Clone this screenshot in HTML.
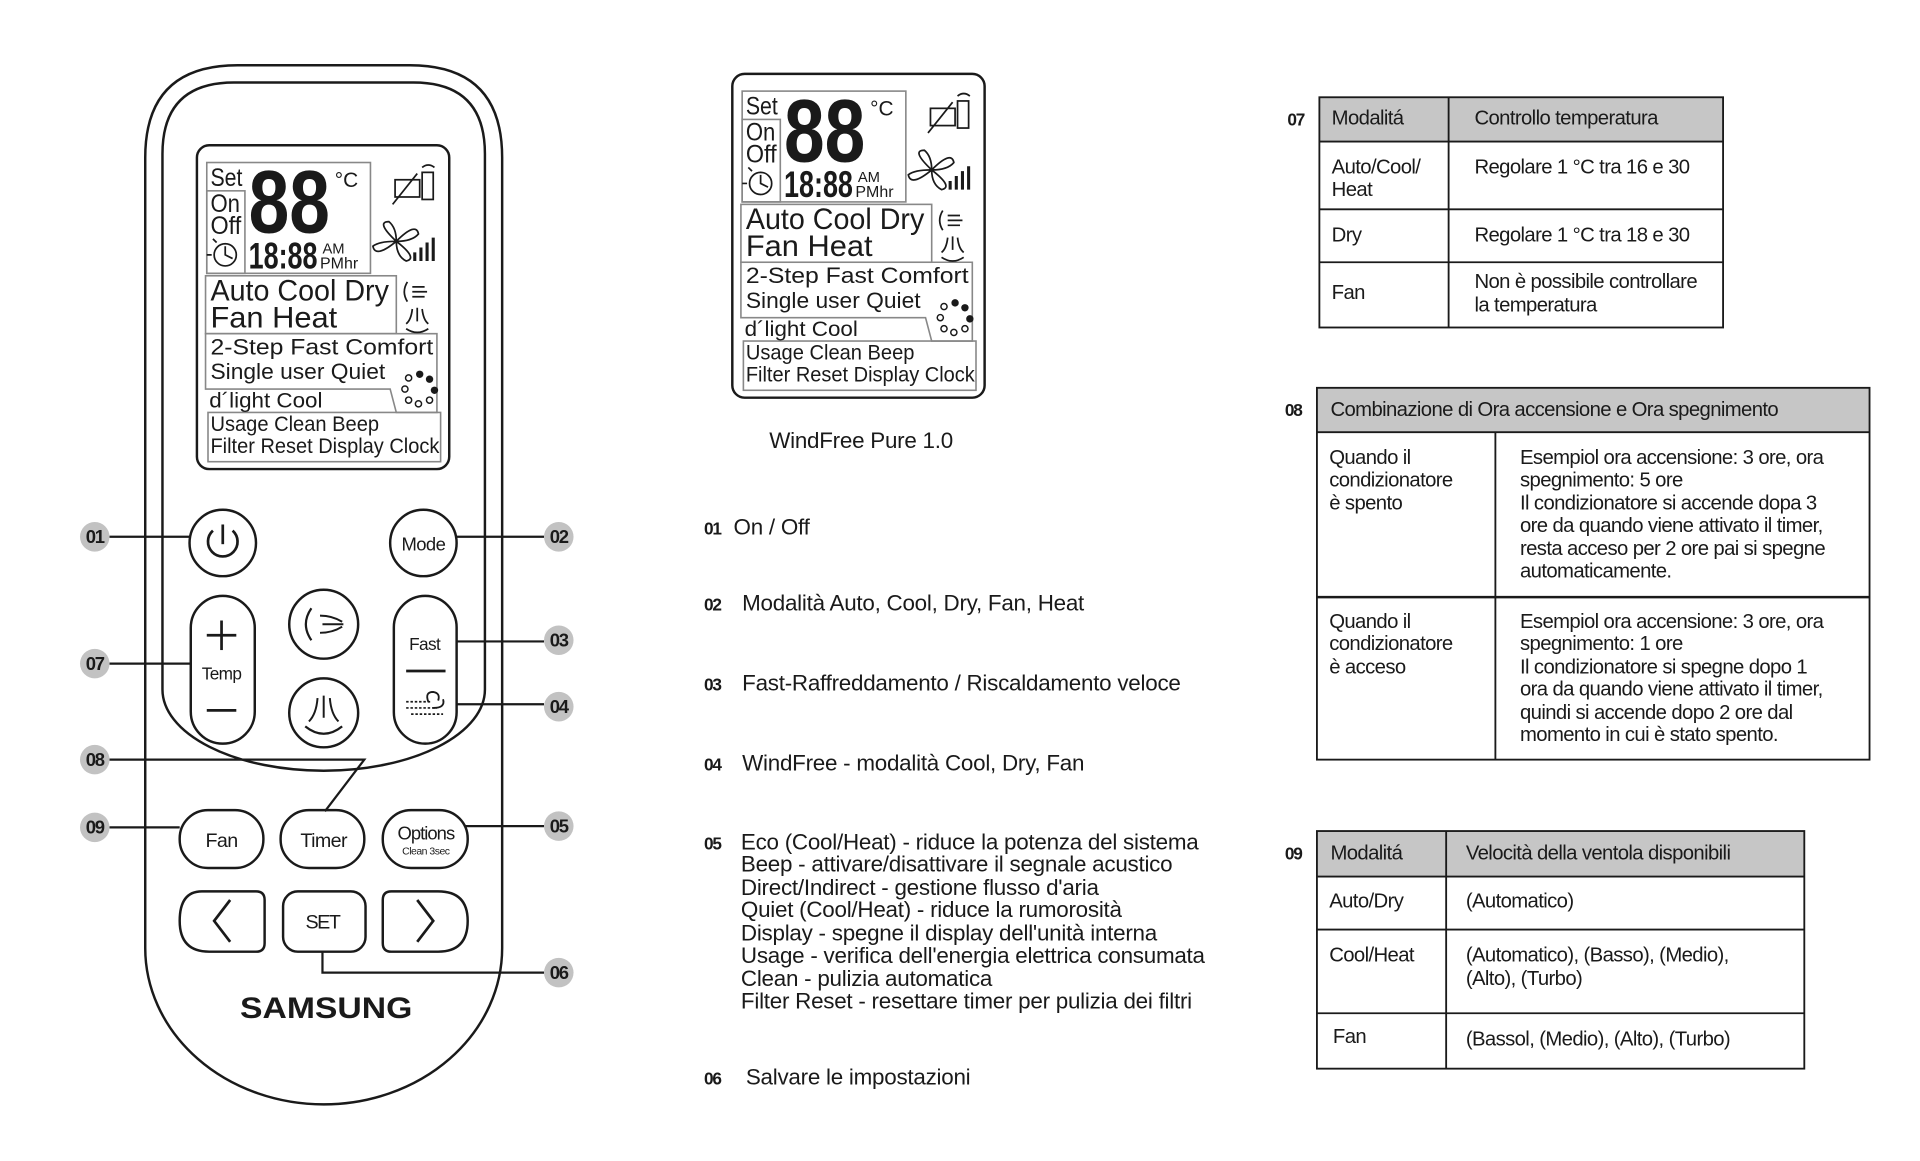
<!DOCTYPE html>
<html><head><meta charset="utf-8"><style>
html,body{margin:0;padding:0;background:#fff;}
svg{display:block;}
text{font-family:"Liberation Sans",sans-serif;fill:#1a1a1a;}
.t{font-size:16.5px;letter-spacing:-0.5px;}
.l{font-size:18.2px;letter-spacing:-0.2px;}
.n{font-size:14px;font-weight:bold;letter-spacing:-1px;}
.c{font-size:15px;font-weight:bold;letter-spacing:-1px;}
</style></head><body>
<svg width="1920" height="1161" viewBox="0 0 1560 943" preserveAspectRatio="none" xmlns="http://www.w3.org/2000/svg">
<g fill="none" stroke="#1a1a1a" stroke-width="2">
<path d="M118,128 Q118,53 193,53 L333,53 Q408,53 408,128 L408,770 A145,127 0 0 1 263,897 A145,127 0 0 1 118,770 Z"/>
<path d="M132,125 Q132,67 190,67 L336,67 Q394,67 394,125 L394,560 A131,66 0 0 1 263,626 A131,66 0 0 1 132,560 Z"/>
<circle cx="181" cy="441" r="27"/>
<circle cx="344" cy="441" r="27"/>
<rect x="155" y="484" width="52" height="120" rx="26"/>
<rect x="320" y="484" width="51" height="120" rx="25.5"/>
<circle cx="263" cy="507" r="28"/>
<circle cx="263" cy="579" r="28"/>
<rect x="146" y="658" width="68" height="47" rx="23"/>
<rect x="228" y="658" width="68" height="47" rx="23"/>
<rect x="311" y="658" width="69" height="47" rx="23"/>
<path d="M164,724 L208,724 Q215,724 215,731 L215,766 Q215,773 208,773 L170,773 Q146,773 146,748 Q146,724 164,724 Z"/>
<rect x="230" y="724" width="67" height="49" rx="12"/>
<path d="M318,724 L356,724 Q380,724 380,748 Q380,773 356,773 L318,773 Q311,773 311,766 L311,731 Q311,724 318,724 Z"/>
</g>
<g fill="none" stroke="#1a1a1a" stroke-width="2.2">
<path d="M173,431 A12,12 0 1 0 189,431"/><line x1="181" y1="426" x2="181" y2="442"/>
<line x1="168" y1="516" x2="192" y2="516"/><line x1="180" y1="504" x2="180" y2="528"/>
<line x1="168" y1="577" x2="192" y2="577"/>
<line x1="330" y1="545" x2="362" y2="545"/>
<path d="M187,731 L174,748 L187,765"/><path d="M339,731 L352,748 L339,765"/>
<path d="M253,494 Q244,507 253,520" stroke-width="1.8"/><path d="M260,500 Q270,500 278,505 M262,507 L279,507 M260,514 Q270,514 278,509" stroke-width="1.6"/>
<path d="M258,567 Q257,580 251,586 M263,565 L263,583 M268,567 Q269,580 275,586" stroke-width="1.6"/><path d="M248,590 Q263,602 278,590" stroke-width="1.8"/>
<path d="M330,570 L350,570 M330,575 L355,575 M334,580 L360,580" stroke-width="1.4" stroke-dasharray="2 1.5"/><path d="M348,570 Q345,562 352,562 Q358,563 356,569 M352,575 Q362,575 360,568" stroke-width="1.5"/>
</g>
<text x="344" y="447" font-size="15" text-anchor="middle" letter-spacing="-0.5">Mode</text>
<text x="180" y="552" font-size="14" text-anchor="middle" letter-spacing="-0.5">Temp</text>
<text x="345" y="528" font-size="14" text-anchor="middle" letter-spacing="-0.5">Fast</text>
<text x="180" y="688" font-size="16" text-anchor="middle" letter-spacing="-0.5">Fan</text>
<text x="263" y="688" font-size="16" text-anchor="middle" letter-spacing="-0.5">Timer</text>
<text x="346" y="682" font-size="15" text-anchor="middle" letter-spacing="-0.8">Options</text>
<text x="346" y="694" font-size="8.5" text-anchor="middle" letter-spacing="-0.4">Clean 3sec</text>
<text x="262" y="754" font-size="16" text-anchor="middle" letter-spacing="-1.2">SET</text>
<text x="265" y="827" font-size="24" font-weight="bold" text-anchor="middle" textLength="140" lengthAdjust="spacingAndGlyphs">SAMSUNG</text>
<g fill="none" stroke="#1a1a1a" stroke-width="1.8">
<path d="M89,436 L155,436"/><path d="M371,436 L442,436"/>
<path d="M371,521 L442,521"/><path d="M371,572 L442,572"/>
<path d="M89,539 L155,539"/>
<path d="M89,617 L296,617 L264,659"/>
<path d="M89,672 L146,672"/>
<path d="M378,671 L442,671"/>
<path d="M262,773 L262,790 L442,790"/>
</g>
<g fill="#c2c2c2">
<circle cx="77" cy="436" r="12"/><circle cx="77" cy="539" r="12"/><circle cx="77" cy="617" r="12"/><circle cx="77" cy="672" r="12"/>
<circle cx="454" cy="436" r="12"/><circle cx="454" cy="520" r="12"/><circle cx="454" cy="574" r="12"/><circle cx="454" cy="671" r="12"/><circle cx="454" cy="790" r="12"/>
</g>
<g class="c" text-anchor="middle">
<text x="77" y="441">01</text><text x="77" y="544">07</text><text x="77" y="622">08</text><text x="77" y="677">09</text>
<text x="454" y="441">02</text><text x="454" y="525">03</text><text x="454" y="579">04</text><text x="454" y="676">05</text><text x="454" y="795">06</text>
</g>

<g transform="translate(0,0)">
<rect x="160" y="118" width="205" height="263" rx="10" fill="none" stroke="#1a1a1a" stroke-width="2"/>
<g fill="none" stroke="#888" stroke-width="1.3">
<rect x="168" y="132" width="133" height="90"/><rect x="168" y="155" width="31" height="67"/>
<rect x="167" y="224" width="155" height="47"/>
<path d="M167,271 L355,271 L355,335 L322,335 L317,316 L167,316 Z"/>
<rect x="169" y="335" width="189" height="40"/>
</g>
<text x="171" y="151" font-size="20" textLength="26" lengthAdjust="spacingAndGlyphs">Set</text>
<text x="171" y="172" font-size="20" textLength="24" lengthAdjust="spacingAndGlyphs">On</text>
<text x="171" y="190" font-size="20" textLength="25" lengthAdjust="spacingAndGlyphs">Off</text>
<text x="202" y="189" font-size="72" font-weight="bold" textLength="66" lengthAdjust="spacingAndGlyphs">88</text>
<text x="272" y="152" font-size="17" textLength="19" lengthAdjust="spacingAndGlyphs">°C</text>
<text x="202" y="218" font-size="30" font-weight="bold" textLength="56" lengthAdjust="spacingAndGlyphs">18:88</text>
<text x="262" y="206" font-size="12">AM</text>
<text x="260" y="218" font-size="13" textLength="31" lengthAdjust="spacingAndGlyphs">PMhr</text>
<g fill="none" stroke="#1a1a1a" stroke-width="1.4">
<circle cx="183" cy="207" r="9"/><path d="M183,200 L183,207 L189,210 M172,207 L168,207 M176,197 L173,194"/>
<rect x="321" y="146" width="20" height="14"/><line x1="319" y1="166" x2="339" y2="141"/><rect x="343" y="140" width="9" height="22"/><path d="M343,136 Q348,132 353,136"/>
<path d="M322,196 Q305,180 316,180 Q322,185 322,196 Q338,180 340,190 Q335,196 322,196 Q340,210 330,212 Q322,208 322,196 Q305,210 303,200 Q308,196 322,196"/>
<path d="M337,212 L337,205 M342,212 L342,201 M347,212 L347,197 M352,212 L352,193" stroke-width="2.5"/>
<path d="M331,229 Q326,237 331,245 M335,233 L345,233 M335,237 L347,237 M335,241 L345,241"/>
<path d="M335,251 Q334,260 330,263 M339,250 L339,261 M343,251 Q344,260 348,263 M330,267 Q339,273 348,267"/>
</g>
<g fill="none" stroke="#1a1a1a" stroke-width="1.2">
<circle cx="332" cy="307" r="2.5"/><circle cx="329" cy="316" r="2.5"/><circle cx="332" cy="325" r="2.5"/><circle cx="340" cy="328" r="2.5"/><circle cx="349" cy="325" r="2.5"/>
</g>
<g fill="#1a1a1a"><circle cx="341" cy="304" r="3"/><circle cx="349" cy="308" r="3"/><circle cx="353" cy="317" r="3"/></g>
<text x="171" y="244" font-size="24" textLength="145" lengthAdjust="spacingAndGlyphs">Auto Cool Dry</text>
<text x="171" y="266" font-size="24" textLength="103" lengthAdjust="spacingAndGlyphs">Fan  Heat</text>
<text x="171" y="288" font-size="18" textLength="181" lengthAdjust="spacingAndGlyphs">2-Step  Fast  Comfort</text>
<text x="171" y="308" font-size="18" textLength="142" lengthAdjust="spacingAndGlyphs">Single user Quiet</text>
<text x="170" y="331" font-size="17" textLength="92" lengthAdjust="spacingAndGlyphs">d´light Cool</text>
<text x="171" y="350" font-size="17" textLength="137" lengthAdjust="spacingAndGlyphs">Usage Clean Beep</text>
<text x="171" y="368" font-size="17" textLength="186" lengthAdjust="spacingAndGlyphs">Filter Reset Display Clock</text>
</g>

<g transform="translate(435,-58)">
<rect x="160" y="118" width="205" height="263" rx="10" fill="none" stroke="#1a1a1a" stroke-width="2"/>
<g fill="none" stroke="#888" stroke-width="1.3">
<rect x="168" y="132" width="133" height="90"/><rect x="168" y="155" width="31" height="67"/>
<rect x="167" y="224" width="155" height="47"/>
<path d="M167,271 L355,271 L355,335 L322,335 L317,316 L167,316 Z"/>
<rect x="169" y="335" width="189" height="40"/>
</g>
<text x="171" y="151" font-size="20" textLength="26" lengthAdjust="spacingAndGlyphs">Set</text>
<text x="171" y="172" font-size="20" textLength="24" lengthAdjust="spacingAndGlyphs">On</text>
<text x="171" y="190" font-size="20" textLength="25" lengthAdjust="spacingAndGlyphs">Off</text>
<text x="202" y="189" font-size="72" font-weight="bold" textLength="66" lengthAdjust="spacingAndGlyphs">88</text>
<text x="272" y="152" font-size="17" textLength="19" lengthAdjust="spacingAndGlyphs">°C</text>
<text x="202" y="218" font-size="30" font-weight="bold" textLength="56" lengthAdjust="spacingAndGlyphs">18:88</text>
<text x="262" y="206" font-size="12">AM</text>
<text x="260" y="218" font-size="13" textLength="31" lengthAdjust="spacingAndGlyphs">PMhr</text>
<g fill="none" stroke="#1a1a1a" stroke-width="1.4">
<circle cx="183" cy="207" r="9"/><path d="M183,200 L183,207 L189,210 M172,207 L168,207 M176,197 L173,194"/>
<rect x="321" y="146" width="20" height="14"/><line x1="319" y1="166" x2="339" y2="141"/><rect x="343" y="140" width="9" height="22"/><path d="M343,136 Q348,132 353,136"/>
<path d="M322,196 Q305,180 316,180 Q322,185 322,196 Q338,180 340,190 Q335,196 322,196 Q340,210 330,212 Q322,208 322,196 Q305,210 303,200 Q308,196 322,196"/>
<path d="M337,212 L337,205 M342,212 L342,201 M347,212 L347,197 M352,212 L352,193" stroke-width="2.5"/>
<path d="M331,229 Q326,237 331,245 M335,233 L345,233 M335,237 L347,237 M335,241 L345,241"/>
<path d="M335,251 Q334,260 330,263 M339,250 L339,261 M343,251 Q344,260 348,263 M330,267 Q339,273 348,267"/>
</g>
<g fill="none" stroke="#1a1a1a" stroke-width="1.2">
<circle cx="332" cy="307" r="2.5"/><circle cx="329" cy="316" r="2.5"/><circle cx="332" cy="325" r="2.5"/><circle cx="340" cy="328" r="2.5"/><circle cx="349" cy="325" r="2.5"/>
</g>
<g fill="#1a1a1a"><circle cx="341" cy="304" r="3"/><circle cx="349" cy="308" r="3"/><circle cx="353" cy="317" r="3"/></g>
<text x="171" y="244" font-size="24" textLength="145" lengthAdjust="spacingAndGlyphs">Auto Cool Dry</text>
<text x="171" y="266" font-size="24" textLength="103" lengthAdjust="spacingAndGlyphs">Fan  Heat</text>
<text x="171" y="288" font-size="18" textLength="181" lengthAdjust="spacingAndGlyphs">2-Step  Fast  Comfort</text>
<text x="171" y="308" font-size="18" textLength="142" lengthAdjust="spacingAndGlyphs">Single user Quiet</text>
<text x="170" y="331" font-size="17" textLength="92" lengthAdjust="spacingAndGlyphs">d´light Cool</text>
<text x="171" y="350" font-size="17" textLength="137" lengthAdjust="spacingAndGlyphs">Usage Clean Beep</text>
<text x="171" y="368" font-size="17" textLength="186" lengthAdjust="spacingAndGlyphs">Filter Reset Display Clock</text>
</g>
<text x="625" y="364" class="l" font-size="17">WindFree Pure 1.0</text>

<g class="l">
<text x="572" y="434" class="n">01</text><text x="596" y="434">On / Off</text>
<text x="572" y="496" class="n">02</text><text x="603" y="496">Modalità Auto, Cool, Dry, Fan, Heat</text>
<text x="572" y="561" class="n">03</text><text x="603" y="561">Fast-Raffreddamento / Riscaldamento veloce</text>
<text x="572" y="626" class="n">04</text><text x="603" y="626">WindFree - modalità Cool, Dry, Fan</text>
<text x="572" y="690" class="n">05</text>
<text x="602" y="690">Eco (Cool/Heat) - riduce la potenza del sistema</text>
<text x="602" y="708">Beep - attivare/disattivare il segnale acustico</text>
<text x="602" y="727">Direct/Indirect - gestione flusso d'aria</text>
<text x="602" y="745">Quiet (Cool/Heat) - riduce la rumorosità</text>
<text x="602" y="764">Display - spegne il display dell'unità interna</text>
<text x="602" y="782">Usage - verifica dell'energia elettrica consumata</text>
<text x="602" y="801">Clean - pulizia automatica</text>
<text x="602" y="819">Filter Reset - resettare timer per pulizia dei filtri</text>
<text x="572" y="881" class="n">06</text><text x="606" y="881">Salvare le impostazioni</text>
</g>

<rect x="1072" y="79" width="328" height="36" fill="#c6c6c6"/>
<g fill="none" stroke="#1a1a1a" stroke-width="1.5">
<rect x="1072" y="79" width="328" height="187"/>
<line x1="1072" y1="115" x2="1400" y2="115"/><line x1="1072" y1="170" x2="1400" y2="170"/><line x1="1072" y1="213" x2="1400" y2="213"/>
<line x1="1177" y1="79" x2="1177" y2="266"/>
</g>
<text x="1046" y="102" class="n">07</text>
<g class="t">
<text x="1082" y="101">Modalitá</text><text x="1198" y="101">Controllo temperatura</text>
<text x="1082" y="141">Auto/Cool/</text><text x="1082" y="159">Heat</text>
<text x="1198" y="141">Regolare 1 °C tra 16 e 30</text>
<text x="1082" y="196">Dry</text><text x="1198" y="196">Regolare 1 °C tra 18 e 30</text>
<text x="1082" y="243">Fan</text><text x="1198" y="234">Non è possibile controllare</text><text x="1198" y="253">la temperatura</text>
</g>

<rect x="1070" y="315" width="449" height="36" fill="#c6c6c6"/>
<g fill="none" stroke="#1a1a1a" stroke-width="1.5">
<rect x="1070" y="315" width="449" height="302"/>
<line x1="1070" y1="351" x2="1519" y2="351"/><line x1="1070" y1="485" x2="1519" y2="485" stroke-width="2"/>
<line x1="1215" y1="351" x2="1215" y2="617"/>
</g>
<text x="1044" y="338" class="n">08</text>
<g class="t">
<text x="1081" y="338">Combinazione di Ora accensione e Ora spegnimento</text>
<text x="1080" y="377">Quando il</text><text x="1080" y="395">condizionatore</text><text x="1080" y="414">è spento</text>
<text x="1235" y="377">Esempiol ora accensione: 3 ore, ora</text>
<text x="1235" y="395">spegnimento:  5 ore</text>
<text x="1235" y="414">Il condizionatore si accende dopa 3</text>
<text x="1235" y="432">ore da quando viene attivato il timer,</text>
<text x="1235" y="451">resta acceso per 2 ore pai si spegne</text>
<text x="1235" y="469">automaticamente.</text>
<text x="1080" y="510">Quando il</text><text x="1080" y="528">condizionatore</text><text x="1080" y="547">è acceso</text>
<text x="1235" y="510">Esempiol ora accensione: 3 ore, ora</text>
<text x="1235" y="528">spegnimento:  1 ore</text>
<text x="1235" y="547">Il condizionatore si spegne dopo 1</text>
<text x="1235" y="565">ora da quando viene attivato il timer,</text>
<text x="1235" y="584">quindi si accende dopo 2 ore dal</text>
<text x="1235" y="602">momento in cui è stato spento.</text>
</g>

<rect x="1070" y="675" width="396" height="37" fill="#c6c6c6"/>
<g fill="none" stroke="#1a1a1a" stroke-width="1.5">
<rect x="1070" y="675" width="396" height="193"/>
<line x1="1070" y1="712" x2="1466" y2="712"/><line x1="1070" y1="755" x2="1466" y2="755"/><line x1="1070" y1="823" x2="1466" y2="823"/>
<line x1="1175" y1="675" x2="1175" y2="868"/>
</g>
<text x="1044" y="698" class="n">09</text>
<g class="t">
<text x="1081" y="698">Modalitá</text><text x="1191" y="698">Velocità della ventola disponibili</text>
<text x="1080" y="737">Auto/Dry</text><text x="1191" y="737">(Automatico)</text>
<text x="1080" y="781">Cool/Heat</text><text x="1191" y="781">(Automatico), (Basso), (Medio),</text><text x="1191" y="800">(Alto), (Turbo)</text>
<text x="1083" y="847">Fan</text><text x="1191" y="849">(Bassol, (Medio), (Alto), (Turbo)</text>
</g>
</svg>
</body></html>
